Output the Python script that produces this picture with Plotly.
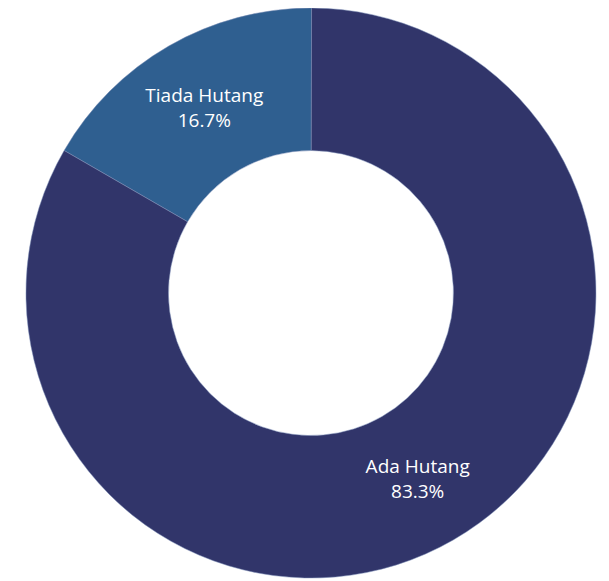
import plotly.graph_objects as go

# data
labels = ["Tiada Hutang", "Ada Hutang"]
values = [16.7, 83.3]
colors = ["#2F5F90", "#31356A"]

fig = go.Figure(
    go.Pie(
        labels=labels,
        values=values,
        hole=0.5,
        sort=False,
        direction="clockwise",
        rotation=-60,
        marker=dict(colors=colors, line=dict(color="#7f90b8", width=0.5)),
        texttemplate="%{label}<br>%{percent:.1%}",
        textposition="inside",
        insidetextorientation="horizontal",
        textfont=dict(family="Open Sans", size=19, color="white"),
        hoverinfo="label+percent",
        # page body has an 8px margin, so the domain is shifted to compensate
        domain=dict(x=[0.0049, 0.9901], y=[0.0189, 1]),
    )
)

fig.update_layout(
    width=609,
    height=581,
    margin=dict(l=0, r=0, t=0, b=0),
    showlegend=False,
    paper_bgcolor="white",
    plot_bgcolor="white",
)

fig.write_html("out.html")
